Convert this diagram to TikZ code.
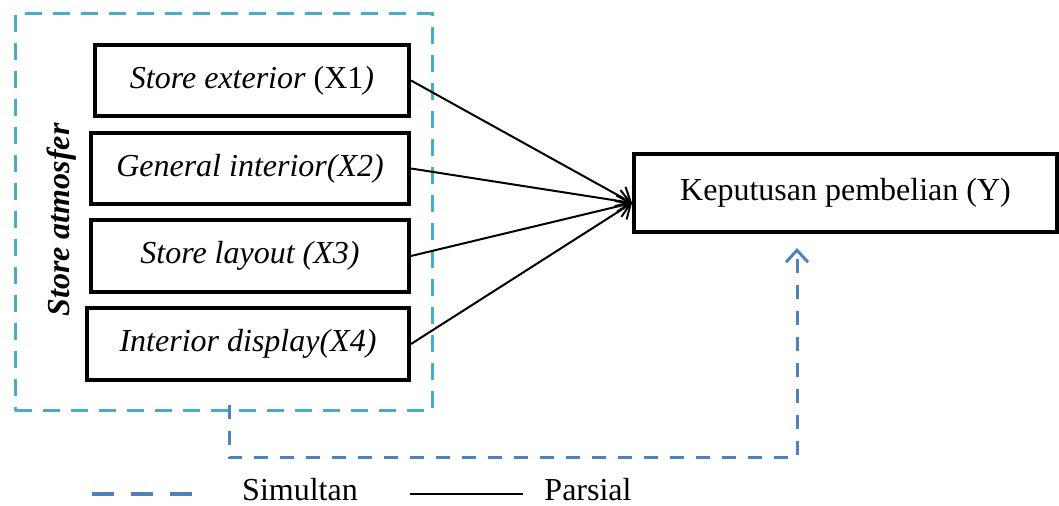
\documentclass[tikz,border=0pt]{standalone}
\usepackage{fontspec}
\setmainfont{Liberation Serif}
\usetikzlibrary{positioning, arrows.meta}
\definecolor{framecyan}{HTML}{4BACC6}
\definecolor{simblue}{HTML}{4F81BD}
\newcommand{\diagfont}{\fontsize{16}{19}\selectfont}
\tikzset{
  varbox/.style={draw, line width=2pt, minimum height=35.5pt, inner sep=0pt, font=\diagfont\itshape},
  parsial/.style={->, line width=1pt, >={Straight Barb[length=6pt,width=11pt]}},
  simultan/.style={simblue, line width=1.5pt, dash pattern=on 7pt off 6pt},
}
\begin{document}
\begin{tikzpicture}[x=0.5pt, y=-0.5pt, font=\diagfont]
    \useasboundingbox (0,0) rectangle (1059,506);
    % dashed frame round the four variables
    \node[draw=framecyan, line width=1.5pt, dash pattern=on 8.5pt off 5.5pt, minimum width=208.5pt, minimum height=198.5pt, inner sep=0pt] (frame) at (223.5,212.5) {};
    \node[rotate=90, font=\diagfont\bfseries\itshape] (atm) at (62,220) {Store atmosfer};
    \node[varbox, minimum width=157pt] (x1) at (252,80.5) {Store exterior \textup{(X1})};
    \node[varbox, minimum width=159pt] (x2) at (250,168.5) {General interior(X2)};
    \node[varbox, minimum width=159pt, minimum height=36pt] (x3) at (250,256) {Store layout (X3)};
    \node[varbox, minimum width=161pt, minimum height=36pt] (x4) at (248,344) {Interior display(X4)};
    \node[draw, line width=2pt, minimum width=211.5pt, minimum height=39pt] (y) at (845.5,193) {Keputusan pembelian (Y)};
    % partial paths
    \coordinate (tip) at (632,203);
    \foreach \b in {x1,x2,x3,x4}
        \draw[parsial] (\b.east) -- (tip);
    % simultaneous path
    \coordinate (s0) at (229,405);
    \coordinate (s1) at (229,458);
    \coordinate (s2) at (797,458);
    \coordinate (s3) at (797,248);
    \draw[simultan, ->, >={Straight Barb[length=6pt,width=11pt]}] (s0) -- (s1) -- (s2) -- (s3);
    % legend
    \coordinate (la) at (92,494);
    \coordinate (lb) at (208,494);
    \coordinate (lc) at (410,494);
    \coordinate (ld) at (523,494);
    \draw[simultan, line width=2pt, dash pattern=on 11pt off 8.5pt] (la) -- (lb);
    \node[inner sep=1pt] (simtxt) at (300,490) {Simultan};
    \draw[line width=1pt] (lc) -- (ld);
    \node[inner sep=1pt] (partxt) at (588,490) {Parsial};
\end{tikzpicture}
\end{document}
